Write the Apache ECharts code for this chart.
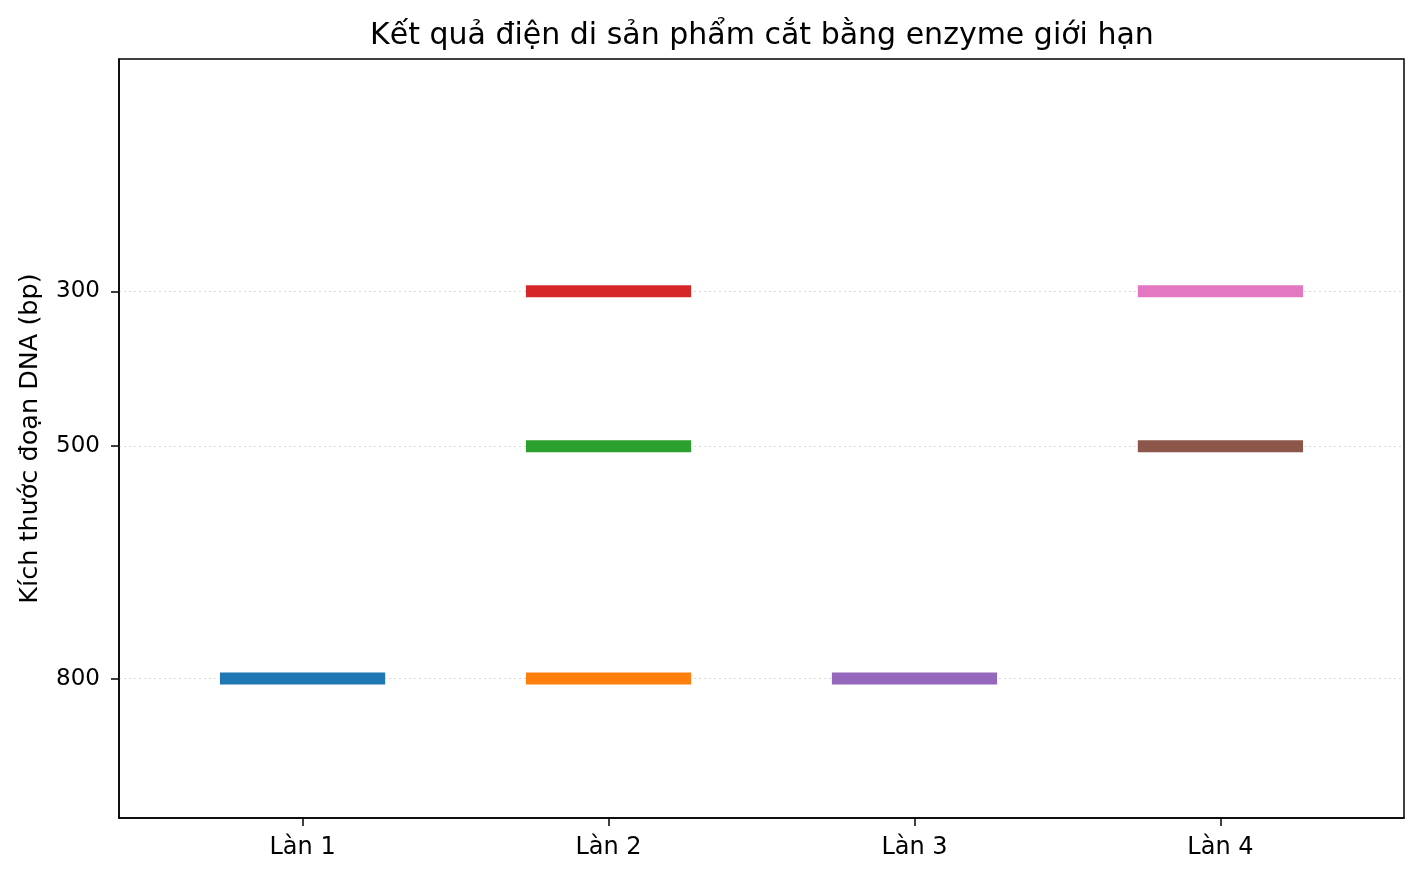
<!DOCTYPE html>
<html><head><meta charset="utf-8">
<script src="https://cdn.jsdelivr.net/npm/echarts@6/dist/echarts.min.js"></script>
<style>html,body{margin:0;padding:0;background:#fff}#c{width:1421px;height:878px}</style>
</head><body><div id="c"></div>
<script>
const laneLabels = ['Làn 1', 'Làn 2', 'Làn 3', 'Làn 4'];
const lanePositions = [1, 2, 3, 4];
const yTicks = [300, 500, 800];
// each band: lane index (1-based), size in bp
const bandLanes = [1, 2, 2, 2, 3, 4, 4];
const bandSizes = [800, 800, 500, 300, 800, 500, 300];
const bandColors = ['#1f77b4', '#ff7f0e', '#2ca02c', '#d62728', '#9467bd', '#8c564b', '#e377c2'];
const halfWidth = 0.27;

const font = 'DejaVu Sans';
const series = bandLanes.map((lane, i) => ({
  type: 'line',
  data: [[lane - halfWidth, bandSizes[i]], [lane + halfWidth, bandSizes[i]]],
  showSymbol: false,
  symbol: 'none',
  lineStyle: { color: bandColors[i], width: 12, cap: 'butt' },
  silent: true,
  animation: false,
  z: 6
}));
series.push({
  type: 'line', data: [], silent: true, animation: false, z: 1,
  markLine: {
    z: 1,
    symbol: 'none', silent: true, label: { show: false },
    lineStyle: { color: '#d9d9d9', type: [2, 3], width: 1 },
    data: yTicks.map(v => ({ yAxis: v }))
  }
});

const chart = echarts.init(document.getElementById('c'), null, { renderer: 'canvas' });
chart.setOption({
  animation: false,
  title: {
    text: 'Kết quả điện di sản phẩm cắt bằng enzyme giới hạn',
    left: 370, top: 21, padding: 0,
    textStyle: { fontFamily: font, fontSize: 30, fontWeight: 'normal', color: '#000' }
  },
  grid: { left: 119, right: 17, top: 59, bottom: 60, containLabel: false },
  xAxis: {
    type: 'value', min: 0.4, max: 4.6,
    axisLine: { show: true, onZero: false, lineStyle: { color: '#000', width: 1.5 } },
    axisTick: { show: true, customValues: lanePositions, length: 8, lineStyle: { color: '#000', width: 1.5 } },
    axisLabel: {
      customValues: lanePositions,
      formatter: v => laneLabels[Math.round(v) - 1] || '',
      fontFamily: font, fontSize: 24, color: '#000', margin: 18
    },
    splitLine: { show: false }
  },
  yAxis: {
    type: 'value', min: 0, max: 980, inverse: true,
    name: 'Kích thước đoạn DNA (bp)', nameLocation: 'middle', nameGap: 76,
    nameTextStyle: { fontFamily: font, fontSize: 25.5, color: '#000' },
    axisLine: { show: true, onZero: false, lineStyle: { color: '#000', width: 1.5 } },
    axisTick: { show: true, customValues: yTicks, length: 8, lineStyle: { color: '#000', width: 1.5 } },
    axisLabel: { customValues: yTicks, fontFamily: font, fontSize: 23, color: '#000', margin: 19 },
    splitLine: { show: false }
  },
  series: series
});
// frame (top and right spines)
chart.setOption({
  graphic: [{
    type: 'rect', silent: true, z: 10,
    shape: { x: 119, y: 59, width: 1421 - 119 - 17, height: 878 - 59 - 60 },
    style: { fill: null, stroke: '#000', lineWidth: 1.5 }
  }]
});
</script></body></html>
